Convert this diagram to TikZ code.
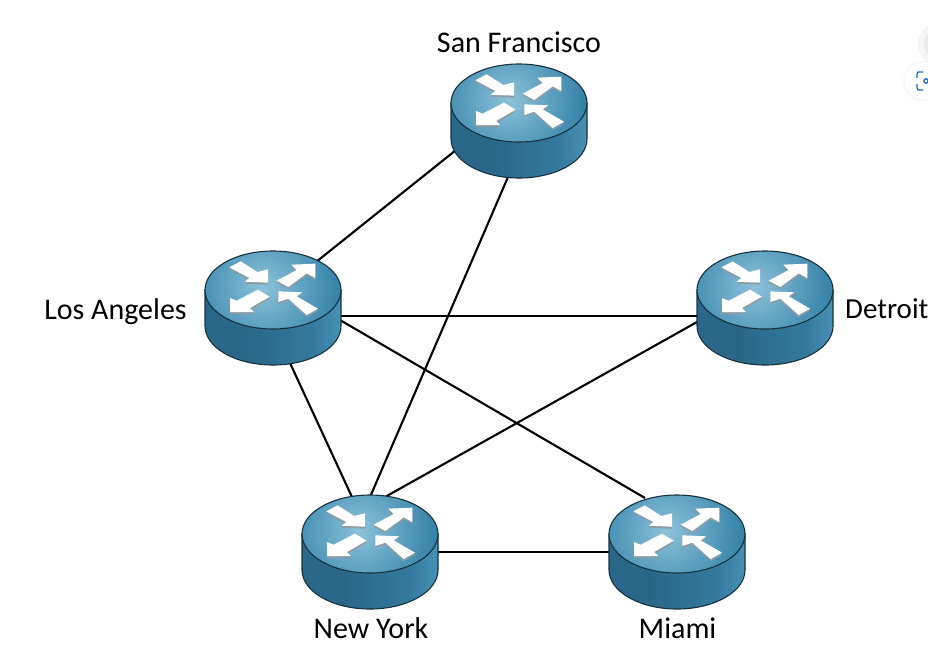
\documentclass[tikz,border=0pt]{standalone}
\usepackage{fontspec}
\setmainfont{Carlito}
\usetikzlibrary{calc}
\definecolor{edgeC}{HTML}{16323F}
\definecolor{topIn}{HTML}{8CC2DA}
\definecolor{topOut}{HTML}{2C7CA3}
\definecolor{sideL}{HTML}{3A7FA3}
\definecolor{sideA}{HTML}{2A6688}
\definecolor{sideB}{HTML}{347A9E}
\definecolor{sideC}{HTML}{5AA6CA}
\definecolor{sideD}{HTML}{2F7296}
\definecolor{arrowShade}{HTML}{8C9CA4}
\definecolor{lensBlue}{HTML}{1A68BE}
\pgfdeclarehorizontalshading{routerside}{100bp}{
  color(0bp)=(sideL); color(8bp)=(sideA); color(40bp)=(sideA); color(65bp)=(sideB); color(84bp)=(sideC); color(92bp)=(sideC); color(100bp)=(sideD)}
\newcommand{\arrowA}{(106,76) -- (140,58) -- (190,90) -- (222,82) -- (222,122) -- (152,119) -- (166,108) -- cycle}
\newcommand{\arrowB}{(248,116) -- (308,84) -- (292,68) -- (364,65) -- (364,108) -- (338,94) -- (283,135) -- cycle}
\newcommand{\arrowC}{(227,164) -- (168,198) -- (180,210) -- (108,210) -- (108,168) -- (128,176) -- (192,143) -- cycle}
\newcommand{\arrowD}{(253,148) -- (325,151) -- (308,163) -- (372,200) -- (338,219) -- (283,170) -- (253,180) -- cycle}
\tikzset{
  x=1pt, y=1pt,
  place/.style={minimum width=136pt, minimum height=114pt, inner sep=0pt, outer sep=0pt},
  link/.style={draw=black, line width=2.1pt},
  caption/.style={inner sep=0pt, font=\fontsize{30}{34}\selectfont, text=black},
  pics/router/.style={code={
    \path[shading=routerside, draw=edgeC, line width=1.1pt]
      (-68,0) -- (-68,-36) arc[start angle=180, end angle=360, x radius=68, y radius=39] -- (68,0) -- cycle;
    \begin{scope}
      \clip (0,0) ellipse[x radius=68, y radius=39];
      \shade[inner color=topIn, outer color=topOut] (-10,3) circle[radius=84];
    \end{scope}
    \draw[edgeC, line width=1.1pt] (0,0) ellipse[x radius=68, y radius=39];
    \begin{scope}[x=0.3333pt, y=-0.3333pt, shift={(-237,-144)}]
      \begin{scope}[shift={(0,6)}]
        \fill[arrowShade] \arrowA; \fill[arrowShade] \arrowB; \fill[arrowShade] \arrowC; \fill[arrowShade] \arrowD;
      \end{scope}
      \fill[white] \arrowA; \fill[white] \arrowB; \fill[white] \arrowC; \fill[white] \arrowD;
    \end{scope}
  }}
}
\begin{document}
\begin{tikzpicture}
  \useasboundingbox (0,0) rectangle (928,-657);
  \fill[white] (0,0) rectangle (928,-657);
  % lens widget at the page edge
  \begin{scope}
    \clip (0,0) rectangle (928,-657);
    \fill[gray!8] (940,-44) circle[radius=22];
    \fill[gray!16] (940,-44) circle[radius=16];
    \fill[gray!6] (923,-81) circle[radius=20];
    \fill[white] (923,-81) circle[radius=18.5];
    \draw[lensBlue, line width=1.3pt] (923,-72) -- (918,-72) -- (917,-74) -- (917,-78);
    \draw[lensBlue, line width=1.3pt] (917,-84) -- (917,-88) -- (918,-90) -- (923,-90);
    \draw[lensBlue, line width=1.3pt] (926,-81) circle[radius=2.2];
  \end{scope}
  % anchors for the routers
  \node[place] (sf) at (519,-121) {};
  \node[place] (la) at (273,-308) {};
  \node[place] (det) at (765,-308) {};
  \node[place] (ny) at (370,-552) {};
  \node[place] (mia) at (677,-552) {};
  % links
  \draw[link] ($(sf)+(-63,-29)$) -- ($(la)+(43,46)$);
  \draw[link] ($(sf)+(-11,-56)$) -- ($(ny)+(0,55)$);
  \draw[link] ($(la)+(67,-8)$) -- ($(det)+(-68,-8)$);
  \draw[link] ($(la)+(67,-12)$) -- ($(mia)+(-32,54)$);
  \draw[link] ($(la)+(17,-55)$) -- ($(ny)+(-18,55)$);
  \draw[link] ($(det)+(-68,-14)$) -- ($(ny)+(15,55)$);
  \draw[link] (ny) -- (mia);
  % routers
  \pic at ($(sf)+(0,18)$) {router};
  \pic at ($(la)+(0,18)$) {router};
  \pic at ($(det)+(0,18)$) {router};
  \pic at ($(ny)+(0,18)$) {router};
  \pic at ($(mia)+(0,18)$) {router};
  % labels
  \node[caption] (lsf) at (519,-42) {San Francisco};
  \node[caption] (lla) at (115.5,-312) {Los Angeles};
  \node[caption, anchor=west, font=\fontsize{29}{34}\selectfont] (ldet) at (845,-309) {Detroit};
  \node[caption] (lny) at (371,-628) {New York};
  \node[caption] (lmia) at (677.5,-628) {Miami};
\end{tikzpicture}
\end{document}
